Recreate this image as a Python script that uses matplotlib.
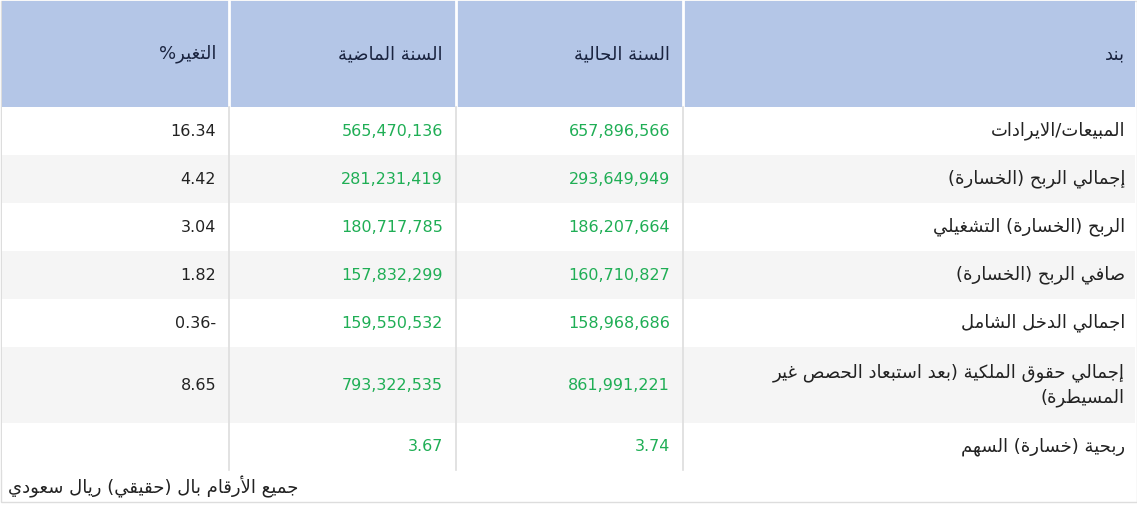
import matplotlib
matplotlib.use("Agg")
import matplotlib.pyplot as plt
from matplotlib.patches import Rectangle

headers = ["بند", "السنة الحالية", "السنة الماضية", "التغير%"]
items = ["المبيعات/الايرادات", "إجمالي الربح (الخسارة)", "الربح (الخسارة) التشغيلي",
         "صافي الربح (الخسارة)", "اجمالي الدخل الشامل",
         "إجمالي حقوق الملكية (بعد استبعاد الحصص غير\nالمسيطرة)", "ربحية (خسارة) السهم"]
current = ["657,896,566", "293,649,949", "186,207,664", "160,710,827", "158,968,686", "861,991,221", "3.74"]
previous = ["565,470,136", "281,231,419", "180,717,785", "157,832,299", "159,550,532", "793,322,535", "3.67"]
change = ["16.34", "4.42", "3.04", "1.82", "0.36-", "8.65", ""]
footer = "جميع الأرقام بال (حقيقي) ريال سعودي"

# ---- minimal Arabic shaping ----
F = {  # iso, fin, ini, med
 'ا':(0xFE8D,0xFE8E,None,None),'أ':(0xFE83,0xFE84,None,None),'إ':(0xFE87,0xFE88,None,None),
 'آ':(0xFE81,0xFE82,None,None),'ء':(0xFE80,None,None,None),
 'ب':(0xFE8F,0xFE90,0xFE91,0xFE92),'ت':(0xFE95,0xFE96,0xFE97,0xFE98),'ث':(0xFE99,0xFE9A,0xFE9B,0xFE9C),
 'ج':(0xFE9D,0xFE9E,0xFE9F,0xFEA0),'ح':(0xFEA1,0xFEA2,0xFEA3,0xFEA4),'خ':(0xFEA5,0xFEA6,0xFEA7,0xFEA8),
 'د':(0xFEA9,0xFEAA,None,None),'ذ':(0xFEAB,0xFEAC,None,None),'ر':(0xFEAD,0xFEAE,None,None),
 'ز':(0xFEAF,0xFEB0,None,None),'س':(0xFEB1,0xFEB2,0xFEB3,0xFEB4),'ش':(0xFEB5,0xFEB6,0xFEB7,0xFEB8),
 'ص':(0xFEB9,0xFEBA,0xFEBB,0xFEBC),'ض':(0xFEBD,0xFEBE,0xFEBF,0xFEC0),'ط':(0xFEC1,0xFEC2,0xFEC3,0xFEC4),
 'ظ':(0xFEC5,0xFEC6,0xFEC7,0xFEC8),'ع':(0xFEC9,0xFECA,0xFECB,0xFECC),'غ':(0xFECD,0xFECE,0xFECF,0xFED0),
 'ف':(0xFED1,0xFED2,0xFED3,0xFED4),'ق':(0xFED5,0xFED6,0xFED7,0xFED8),'ك':(0xFED9,0xFEDA,0xFEDB,0xFEDC),
 'ل':(0xFEDD,0xFEDE,0xFEDF,0xFEE0),'م':(0xFEE1,0xFEE2,0xFEE3,0xFEE4),'ن':(0xFEE5,0xFEE6,0xFEE7,0xFEE8),
 'ه':(0xFEE9,0xFEEA,0xFEEB,0xFEEC),'و':(0xFEED,0xFEEE,None,None),'ي':(0xFEF1,0xFEF2,0xFEF3,0xFEF4),
 'ى':(0xFEEF,0xFEF0,None,None),'ة':(0xFE93,0xFE94,None,None),
}
LA = {'ا':(0xFEFB,0xFEFC),'أ':(0xFEF7,0xFEF8),'إ':(0xFEF9,0xFEFA),'آ':(0xFEF5,0xFEF6)}

def shape(s):
    toks = []
    i = 0
    while i < len(s):
        if s[i] == 'ل' and i+1 < len(s) and s[i+1] in LA:
            toks.append(('LA', s[i+1])); i += 2
        else:
            toks.append(('C', s[i])); i += 1
    def joins_next(t):
        if t[0] == 'LA': return False
        f = F.get(t[1]); return bool(f and f[2])
    def joins_prev(t):
        if t[0] == 'LA': return True
        f = F.get(t[1]); return bool(f and f[1])
    out = []
    for k, t in enumerate(toks):
        prev = k > 0 and joins_next(toks[k-1]) and joins_prev(t)
        nxt = k+1 < len(toks) and joins_next(t) and joins_prev(toks[k+1])
        if t[0] == 'LA':
            out.append(chr(LA[t[1]][1] if prev else LA[t[1]][0])); continue
        f = F.get(t[1])
        if not f: out.append(t[1]); continue
        if prev and nxt: c = f[3]
        elif prev: c = f[1]
        elif nxt: c = f[2]
        else: c = f[0]
        out.append(chr(c))
    r = ''.join(out)[::-1]
    return r.translate(str.maketrans('()', ')('))

def ar(s):
    return '\n'.join(shape(l) for l in s.split('\n'))

fig = plt.figure(figsize=(11.37, 5.07), dpi=100)
ax = fig.add_axes([0, 0, 1, 1])
ax.set_xlim(0, 1137); ax.set_ylim(507, 0); ax.axis('off')

cols = [2, 229, 456, 683, 1135]
rows = [1, 107, 155, 203, 251, 299, 347, 423, 470]
ax.add_patch(Rectangle((0.5, 0.5), 1136, 501, fill=False, ec='#dddddd', lw=1))
ax.add_patch(Rectangle((cols[0], rows[0]), cols[-1]-cols[0], rows[1]-rows[0], fc='#b4c6e7', ec='none'))
for r in range(len(items)):
    fc = '#ffffff' if r % 2 == 0 else '#f5f5f5'
    ax.add_patch(Rectangle((cols[0], rows[r+1]), cols[-1]-cols[0], rows[r+2]-rows[r+1], fc=fc, ec='none'))
for x in cols[1:-1]:
    ax.plot([x, x], [rows[0], rows[1]], color='white', lw=2)
    ax.plot([x, x], [rows[1], rows[-1]], color='#dddddd', lw=1.2)

fa = 13
fn = 11.5
kw = dict(family='DejaVu Sans', ha='right', va='center')
hx = [1125, 670, 443, 216]
for h, x in zip(headers, hx):
    ax.text(x, 54, ar(h), color='#1a2440', fontsize=fa, **kw)
for r in range(len(items)):
    yc = (rows[r+1] + rows[r+2]) / 2
    ax.text(1125, yc, ar(items[r]), color='#222222', fontsize=fa,
            multialignment='right', linespacing=1.45, **kw)
    ax.text(670, yc, current[r], color='#1fae55', fontsize=fn, **kw)
    ax.text(443, yc, previous[r], color='#1fae55', fontsize=fn, **kw)
    ax.text(216, yc, change[r], color='#222222', fontsize=fn, **kw)
ax.text(298, 487, ar(footer), color='#222222', fontsize=fa, **kw)
fig.savefig('out.png', dpi=100)
